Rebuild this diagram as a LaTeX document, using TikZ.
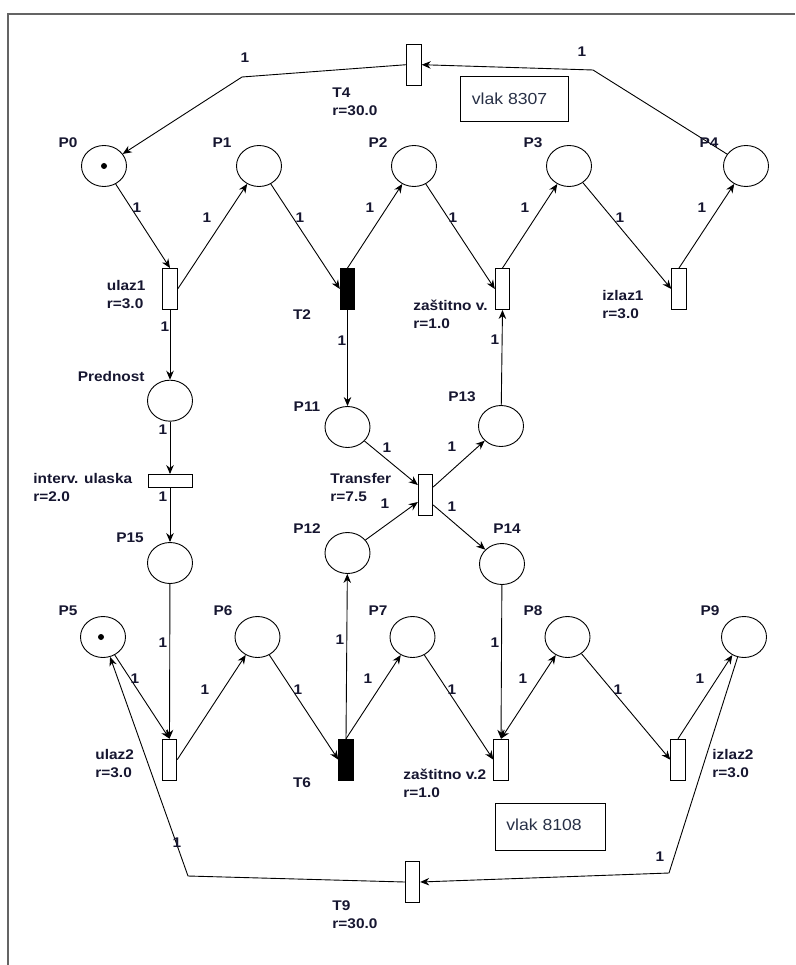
\documentclass[tikz,border=0pt]{standalone}
\usepackage{fontspec}
\setmainfont{Liberation Sans}
\newfontfamily\lblfont{Liberation Sans}[FakeStretch=1.1]
\usetikzlibrary{shapes.geometric,arrows.meta,calc}
\definecolor{labcol}{RGB}{22,22,48}
\definecolor{boxtxt}{RGB}{40,48,70}
\definecolor{framecol}{RGB}{100,100,100}
\begin{document}
\begin{tikzpicture}[x=1pt,y=-1pt,line width=0.9pt,
  place/.style={ellipse,draw,minimum width=45pt,minimum height=41pt,inner sep=0pt},
  trans/.style={rectangle,draw,fill=white,minimum width=14.5pt,minimum height=41pt,inner sep=0pt},
  ftrans/.style={trans,fill=black},
  htrans/.style={rectangle,draw,fill=white,minimum width=44pt,minimum height=13pt,inner sep=0pt},
  token/.style={circle,fill=black,inner sep=0pt,minimum size=6pt},
  arc/.style={draw,-{Stealth[length=9pt,width=7.5pt]}},
  arcb/.style={draw,{Stealth[length=9pt,width=7.5pt]}-{Stealth[length=9pt,width=7.5pt]}},
  lbl/.style={font=\lblfont\bfseries\fontsize{14}{18}\selectfont,text=labcol,inner sep=0pt},
  tlbl/.style={lbl,align=left,anchor=west},
  boxnode/.style={draw,line width=0.8pt,inner sep=0pt}
]
\useasboundingbox (0,0) rectangle (795,965);
\draw[framecol,line width=2pt] (8.3,965) -- (8.3,13.7) -- (795,13.7);

% places
\node[place] (P0) at (104,166) {};
\node[place] (P1) at (259,166) {};
\node[place] (P2) at (414,166) {};
\node[place] (P3) at (569,166) {};
\node[place] (P4) at (746,166) {};
\node[place] (P5) at (103,637) {};
\node[place] (P6) at (257.5,637) {};
\node[place] (P7) at (412.5,637) {};
\node[place] (P8) at (567.5,637) {};
\node[place] (P9) at (744,637) {};
\node[place] (Pred) at (170,400.7) {};
\node[place] (P15) at (170,563) {};
\node[place] (P11) at (347.5,427) {};
\node[place] (P12) at (347.5,553) {};
\node[place] (P13) at (501,426) {};
\node[place] (P14) at (502,564) {};
\node[token] (k0) at (104,166) {};
\node[token] (k5) at (101,637) {};

% transitions
\node[trans] (ulaz1) at (170,289) {};
\node[ftrans] (T2) at (347.5,289) {};
\node[trans] (Z1) at (502.5,289) {};
\node[trans] (izlaz1) at (679,289) {};
\node[trans] (T4) at (414,64.7) {};
\node[htrans] (IU) at (170,481) {};
\node[trans] (Tr) at (425.5,495) {};
\node[trans] (ulaz2) at (169.5,759.7) {};
\node[ftrans] (T6) at (346,759.7) {};
\node[trans] (Z2) at (501,759.7) {};
\node[trans] (izlaz2) at (678,759.7) {};
\node[trans] (T9) at (412.5,882) {};

% text boxes
\node[boxnode,minimum width=107.6pt,minimum height=45pt] (vb1) at (514.5,99.2) {};
\node[font=\lblfont\fontsize{16}{18}\selectfont,text=boxtxt,inner sep=0pt] (vt1) at (509.5,99) {vlak 8307};
\node[boxnode,minimum width=110.7pt,minimum height=47.4pt] (vb2) at (550.3,827) {};
\node[font=\lblfont\fontsize{16}{18}\selectfont,text=boxtxt,inner sep=0pt] (vt2) at (544,825) {vlak 8108};

% connectors
\coordinate (b4) at (593,70);
\coordinate (b0) at (242,77);
\coordinate (b9) at (669,873);
\coordinate (b5) at (188,876);
\draw[arc] (P0) -- (ulaz1.north);
\draw[arc] (ulaz1.east) -- (P1);
\draw[arc] (P1) -- (T2.west);
\draw[arc] (T2.north) -- (P2);
\draw[arc] (P2) -- (Z1.west);
\draw[arc] (Z1.north) -- (P3);
\draw[arc] (P3) -- (izlaz1.west);
\draw[arc] (izlaz1.north) -- (P4);
\draw[arc] (P4) -- (b4) -- (T4.east);
\draw[arc] (T4.west) -- (b0) -- (P0);
\draw[arc] (ulaz1.south) -- (Pred);
\draw[arc] (Pred) -- (IU.north);
\draw[arc] (IU.south) -- (P15);
\draw[arc] (P15) -- (ulaz2.north);
\draw[arc] (T2.south) -- (P11);
\draw[arc] (P11) -- ($(Tr.west)+(0,-10)$);
\draw[arc] (P12) -- ($(Tr.west)+(0,7)$);
\draw[arc] ($(Tr.east)+(0,-8)$) -- (P13);
\draw[arc] ($(Tr.east)+(0,10)$) -- (P14);
\draw[arc] (P13) -- (Z1.south);
\draw[arc] (T6.north) -- (P12);
\draw[arc] (P14) -- (Z2.north);
\draw[arc] (P5) -- (ulaz2.north);
\draw[arc] (ulaz2.east) -- (P6);
\draw[arc] (P6) -- (T6.west);
\draw[arc] (T6.north) -- (P7);
\draw[arc] (P7) -- (Z2.west);
\draw[arcb] (Z2.north) -- (P8);
\draw[arc] (P8) -- (izlaz2.west);
\draw[arc] (izlaz2.north) -- (P9);
\draw[arc] (P9) -- (b9) -- (T9.east);
\draw[arc] (T9.west) -- (b5) -- (P5);

% place labels
\node[lbl] (lP0) at (68,143) {P0};
\node[lbl] (lP1) at (222,143) {P1};
\node[lbl] (lP2) at (378,143) {P2};
\node[lbl] (lP3) at (533,143) {P3};
\node[lbl] (lP4) at (709,143) {P4};
\node[lbl] (lP5) at (68,611) {P5};
\node[lbl] (lP6) at (223,611) {P6};
\node[lbl] (lP7) at (378,611) {P7};
\node[lbl] (lP8) at (533,611) {P8};
\node[lbl] (lP9) at (710,611) {P9};
\node[lbl,anchor=east] (lPred) at (145,376) {Prednost};
\node[lbl] (lP15) at (130,538) {P15};
\node[lbl] (lP11) at (307,407) {P11};
\node[lbl] (lP12) at (307,529) {P12};
\node[lbl] (lP13) at (462,397) {P13};
\node[lbl] (lP14) at (507,529) {P14};

% transition labels
\node[tlbl] (lulaz1) at (106.5,295) {ulaz1\\r=3.0};
\node[lbl] (lT2) at (302,315) {T2};
\node[tlbl] (lZ1) at (413,314.5) {zaštitno v.\\r=1.0};
\node[tlbl] (lizlaz1) at (602,305) {izlaz1\\r=3.0};
\node[tlbl] (lT4) at (332,101.5) {T4\\r=30.0};
\node[tlbl] (lIU) at (33,487) {interv. ulaska\\r=2.0};
\node[tlbl] (lTr) at (330,487) {Transfer\\r=7.5};
\node[tlbl] (lulaz2) at (95,763) {ulaz2\\r=3.0};
\node[lbl] (lT6) at (302,783) {T6};
\node[tlbl] (lZ2) at (403,783) {zaštitno v.2\\r=1.0};
\node[tlbl] (lizlaz2) at (712,763) {izlaz2\\r=3.0};
\node[tlbl] (lT9) at (332,914.5) {T9\\r=30.0};

% weights
\node[lbl] (w1) at (137,208) {1};
\node[lbl] (w2) at (207,218) {1};
\node[lbl] (w3) at (300,218) {1};
\node[lbl] (w4) at (370,208) {1};
\node[lbl] (w5) at (453,218) {1};
\node[lbl] (w6) at (525,208) {1};
\node[lbl] (w7) at (620,218) {1};
\node[lbl] (w8) at (702,208) {1};
\node[lbl] (w9) at (582,52) {1};
\node[lbl] (w10) at (245,58) {1};
\node[lbl] (w11) at (165,327) {1};
\node[lbl] (w12) at (163,430) {1};
\node[lbl] (w13) at (163,497) {1};
\node[lbl] (w14) at (163,643) {1};
\node[lbl] (w15) at (342,341) {1};
\node[lbl] (w16) at (387,448) {1};
\node[lbl] (w17) at (385,504) {1};
\node[lbl] (w18) at (452,447) {1};
\node[lbl] (w19) at (452,507) {1};
\node[lbl] (w20) at (495,340) {1};
\node[lbl] (w21) at (340,640) {1};
\node[lbl] (w22) at (495,643) {1};
\node[lbl] (w23) at (135,679) {1};
\node[lbl] (w24) at (205,690) {1};
\node[lbl] (w25) at (298,690) {1};
\node[lbl] (w26) at (368,679) {1};
\node[lbl] (w27) at (452,690) {1};
\node[lbl] (w28) at (523,679) {1};
\node[lbl] (w29) at (618,690) {1};
\node[lbl] (w30) at (700,679) {1};
\node[lbl] (w31) at (660,857) {1};
\node[lbl] (w32) at (177,843) {1};
\end{tikzpicture}
\end{document}
